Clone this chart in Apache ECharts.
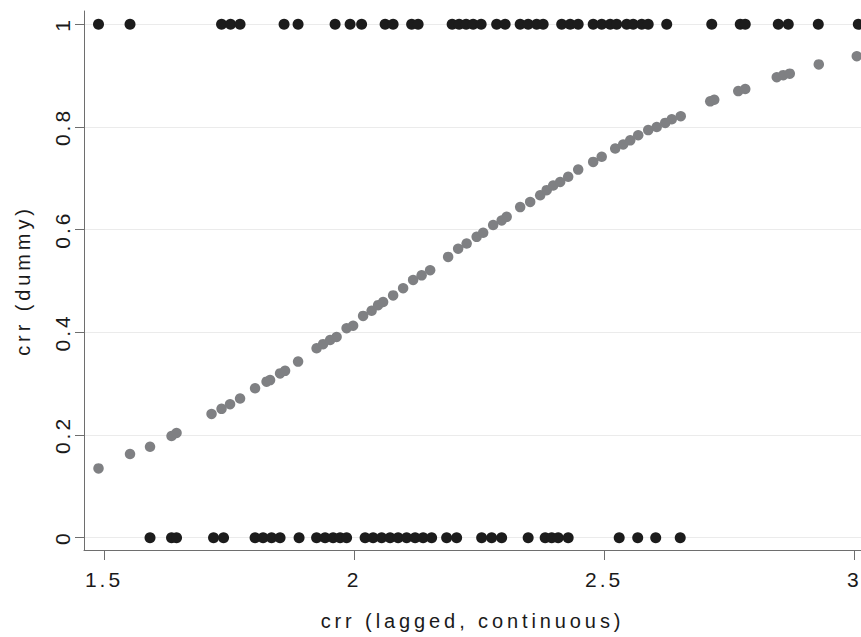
<!DOCTYPE html>
<html>
<head>
<meta charset="utf-8">
<script src="https://cdn.jsdelivr.net/npm/echarts@6/dist/echarts.min.js"></script>
<style>
html, body { margin: 0; padding: 0; background: #ffffff; }
#main { width: 861px; height: 637px; letter-spacing: 3px; }
#main text[style*="Arimo"] { letter-spacing: 3.9px; }
</style>
</head>
<body>
<div id="main"></div>
<script>
// x values (lagged crr) of observations with crr dummy = 1
const xCrrOne = [1.489, 1.552, 1.735, 1.753, 1.772, 1.860, 1.888, 1.962, 1.992, 2.015,
  2.062, 2.078, 2.115, 2.128, 2.196, 2.210, 2.224, 2.238, 2.254, 2.285,
  2.302, 2.332, 2.348, 2.365, 2.378, 2.415, 2.432, 2.448, 2.478, 2.495,
  2.512, 2.525, 2.545, 2.558, 2.575, 2.588, 2.625, 2.715, 2.772, 2.782,
  2.848, 2.868, 2.928, 3.008];
// x values (lagged crr) of observations with crr dummy = 0
const xCrrZero = [1.592, 1.635, 1.645, 1.719, 1.739, 1.802, 1.818, 1.835, 1.852, 1.890,
  1.925, 1.942, 1.958, 1.972, 1.985, 2.022, 2.038, 2.055, 2.072, 2.088,
  2.105, 2.122, 2.138, 2.155, 2.185, 2.205, 2.255, 2.275, 2.295, 2.348,
  2.382, 2.395, 2.408, 2.428, 2.530, 2.567, 2.603, 2.652];
const dummyOne = 1;
const dummyZero = 0;
// fitted (predicted) probabilities, read from the grey points
const fitX = [1.489, 1.552, 1.592, 1.635, 1.645, 1.715, 1.735, 1.752, 1.772, 1.802,
  1.825, 1.832, 1.852, 1.862, 1.888, 1.925, 1.938, 1.952, 1.965, 1.985,
  1.998, 2.018, 2.035, 2.048, 2.058, 2.078, 2.098, 2.118, 2.135, 2.152,
  2.188, 2.208, 2.225, 2.245, 2.258, 2.278, 2.295, 2.305, 2.332, 2.352,
  2.372, 2.385, 2.398, 2.412, 2.428, 2.448, 2.478, 2.495, 2.522, 2.538,
  2.552, 2.568, 2.588, 2.605, 2.622, 2.635, 2.653, 2.712, 2.720, 2.768,
  2.782, 2.845, 2.858, 2.871, 2.929, 3.005];
const fitY = [0.135, 0.163, 0.177, 0.198, 0.204, 0.241, 0.251, 0.260, 0.271, 0.291,
  0.304, 0.307, 0.320, 0.325, 0.343, 0.369, 0.377, 0.385, 0.391, 0.408,
  0.413, 0.432, 0.442, 0.453, 0.459, 0.472, 0.486, 0.502, 0.511, 0.521,
  0.547, 0.563, 0.573, 0.586, 0.594, 0.609, 0.618, 0.625, 0.644, 0.654,
  0.667, 0.677, 0.686, 0.693, 0.703, 0.717, 0.732, 0.742, 0.758, 0.766,
  0.774, 0.784, 0.794, 0.800, 0.808, 0.815, 0.821, 0.850, 0.853, 0.870,
  0.874, 0.897, 0.901, 0.904, 0.922, 0.938];
const xTicks = [1.5, 2, 2.5, 3];
const yTicks = [0, 0.2, 0.4, 0.6, 0.8, 1];
const xTitle = 'crr (lagged, continuous)';
const yTitle = 'crr (dummy)';

const axisGray = '#6e6e6e';
const textColor = '#1a1a1a';
const tickFont = 'Liberation Sans';
const titleFont = 'Arimo, Liberation Sans';

const chart = echarts.init(document.getElementById('main'), null, { renderer: 'svg' });
chart.setOption({
  animation: false,
  backgroundColor: '#ffffff',
  grid: { left: 84, right: 0, top: 11, bottom: 87, containLabel: false, outerBoundsMode: 'none' },
  xAxis: {
    type: 'value', min: 1.46, max: 3.0134,
    axisLine: { show: true, onZero: false, lineStyle: { color: axisGray, width: 1 } },
    axisTick: { show: true, length: 10, customValues: xTicks, lineStyle: { color: axisGray, width: 1 } },
    axisLabel: { customValues: xTicks, fontSize: 21, color: textColor, margin: 19, fontFamily: tickFont },
    splitLine: { show: false },
    name: xTitle, nameLocation: 'middle', nameGap: 61,
    nameTextStyle: { fontSize: 20, color: textColor, fontFamily: titleFont }
  },
  yAxis: {
    type: 'value', min: -0.024, max: 1.026,
    axisLine: { show: true, onZero: false, lineStyle: { color: axisGray, width: 1 } },
    axisTick: { show: true, length: 9, customValues: yTicks, lineStyle: { color: axisGray, width: 1 } },
    axisLabel: { customValues: yTicks, rotate: 90, fontSize: 21, color: textColor, margin: 11, fontFamily: tickFont },
    splitLine: { show: true, lineStyle: { color: '#ebebeb', width: 1 } },
    name: yTitle, nameLocation: 'middle', nameGap: 51,
    nameTextStyle: { fontSize: 20, color: textColor, fontFamily: titleFont }
  },
  series: [
    {
      type: 'scatter', symbol: 'circle', symbolSize: 11,
      itemStyle: { color: '#1c1c1c', opacity: 1 },
      data: xCrrOne.map(x => [x, dummyOne])
    },
    {
      type: 'scatter', symbol: 'circle', symbolSize: 11,
      itemStyle: { color: '#1c1c1c', opacity: 1 },
      data: xCrrZero.map(x => [x, dummyZero])
    },
    {
      type: 'scatter', symbol: 'circle', symbolSize: 10.5,
      itemStyle: { color: '#7f8083', opacity: 1 },
      data: fitX.map((x, i) => [x, fitY[i]])
    }
  ]
});
</script>
</body>
</html>
